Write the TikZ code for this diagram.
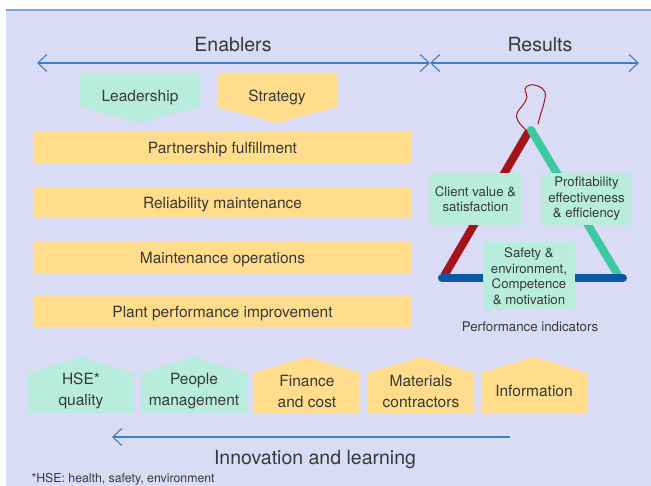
\documentclass[tikz,border=0pt]{standalone}
\usepackage{fontspec}
\setmainfont{TeX Gyre Heros}
\usetikzlibrary{arrows.meta}
\definecolor{bg}{HTML}{D9DCF4}
\definecolor{yel}{HTML}{FFDD8C}
\definecolor{mint}{HTML}{B8EDDD}
\definecolor{arr}{HTML}{3F7CC0}
\definecolor{txt}{HTML}{383838}
\definecolor{redb}{HTML}{A3131C}
\definecolor{tealb}{HTML}{3CC9A2}
\definecolor{blueb}{HTML}{0A58A3}
\definecolor{topline}{HTML}{7FA6D8}
\newcommand\mkhouse[4]{%
  \fill[#2] (#1,413) -- (#1,373) -- ({#1+53},357) -- ({#1+106},373) -- ({#1+106},413) -- cycle;
  \node[hlbl] (#3) at ({#1+53},391) {#4};}
\begin{document}
\begin{tikzpicture}[x=1pt,y=-1pt,
  every node/.style={text=txt},
  bar/.style={fill=yel, draw=none, minimum width=379pt, minimum height=31pt, inner sep=0pt,
    font=\fontsize{15.5}{18}\selectfont, text height=11.2pt, text depth=0pt},
  lbl/.style={font=\fontsize{15.5}{18}\selectfont, text height=11.2pt, text depth=0pt, inner sep=0pt},
  hlbl/.style={font=\fontsize{15.5}{21}\selectfont, align=center, inner sep=0pt},
  tbox/.style={fill=mint, inner sep=0pt, align=center, font=\fontsize{13.2}{15.5}\selectfont},
  big/.style={font=\fontsize{19.5}{22}\selectfont, text height=14pt, text depth=0pt, inner sep=0pt},
  arrowline/.style={draw=arr, line width=1.1pt, arrows={Straight Barb[length=9pt,width=17pt]-Straight Barb[length=9pt,width=17pt]}},
]
\useasboundingbox (0,0) rectangle (651,486);
\fill[white] (0,0) rectangle (651,486);
\fill[bg] (6,10) rectangle (651,486);
\draw[topline, line width=1.5pt] (6,10) -- (651,10);

% headings and arrows
\node[big] (enab) at (233,45) {Enablers};
\node[big] (res) at (540,45) {Results};
\coordinate (eL) at (37,63);
\coordinate (mid) at (430,63);
\coordinate (rR) at (639,63);
\draw[arrowline] (eL) -- (mid);
\draw[arrowline] (mid) -- (rR);

% leadership / strategy
\fill[mint] (80,73) -- (200,73) -- (200,107) -- (140,123) -- (80,107) -- cycle;
\node[lbl] (lead) at (140,95.5) {Leadership};
\fill[yel] (217,73) -- (337,73) -- (337,107) -- (277,123) -- (217,107) -- cycle;
\node[lbl] (strat) at (277,95.5) {Strategy};

% bars
\node[bar] (b1) at (222.5,147.5) {Partnership fulfillment};
\node[bar] (b2) at (222.5,202.5) {Reliability maintenance};
\node[bar] (b3) at (222.5,257.5) {Maintenance operations};
\node[bar] (b4) at (222.5,311.5) {Plant performance improvement};

% triangle
\draw[redb, line width=1pt] plot[smooth, tension=0.7] coordinates {(525,129) (518,121) (517,113) (523,105) (527,97) (525,89) (530,85) (538,86) (545,92) (544,103) (541,113) (538,124)};
\draw[redb, line width=8pt] (444,276) -- (529,131);
\draw[tealb, line width=8pt, line cap=round] (531,130) -- (618,275);
\draw[blueb, line width=8pt, line cap=round] (442,278) -- (623,278);

\node[tbox, minimum width=91pt, minimum height=52pt] (client) at (475.5,199) {Client value \&\\satisfaction};
\node[tbox, minimum width=91pt, minimum height=52pt] (profit) at (586.5,199) {Profitability\\effectiveness\\\& efficiency};
\node[tbox, minimum width=92pt, minimum height=68pt] (safety) at (529,276) {Safety \&\\environment,\\Competence\\\& motivation};
\node[font=\fontsize{13.3}{16}\selectfont, text height=9.6pt, text depth=0pt, inner sep=0pt] (perf) at (530,327) {Performance indicators};

% bottom houses
\mkhouse{28}{mint}{hse}{HSE*\\quality}
\mkhouse{141}{mint}{people}{People\\management}
\mkhouse{254}{yel}{fin}{Finance\\and cost}
\mkhouse{368}{yel}{mat}{Materials\\contractors}
\mkhouse{481}{yel}{info}{Information}

\coordinate (iR) at (510,437);
\coordinate (iL) at (112,437);
\draw[draw=arr, line width=1.1pt, arrows={-Straight Barb[length=9pt,width=17pt]}] (iR) -- (iL);
\node[big] (innov) at (315,457.5) {Innovation and learning};
\node[anchor=west, font=\fontsize{12.3}{14}\selectfont] (fn) at (28,479) {*HSE: health, safety, environment};
\end{tikzpicture}
\end{document}
